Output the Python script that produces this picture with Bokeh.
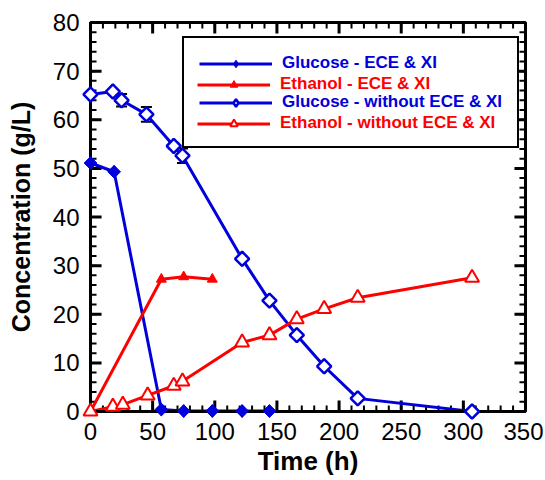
import numpy as np
from bokeh.plotting import figure
from bokeh.models import (Range1d, Legend, LegendItem, Whisker,
                          ColumnDataSource, FixedTicker, TeeHead)
from bokeh.embed import file_html
from bokeh.resources import INLINE

# ---- data ----
glu_ece_t = [0, 19, 57, 75, 98, 122, 144]
glu_ece_c = [51.1, 49.3, 0.4, 0.1, 0.1, 0.1, 0.1]

eth_ece_t = [0, 57, 75, 98]
eth_ece_c = [0.0, 27.2, 27.7, 27.2]

glu_wo_t = [0, 18, 25, 45, 67, 74, 122, 144, 166, 188, 215, 307]
glu_wo_c = [65.2, 65.8, 64.0, 61.1, 54.6, 52.6, 31.4, 22.8, 15.7, 9.3, 2.7, 0.0]
glu_wo_err = [0.3, 0.3, 1.3, 1.5, 0.5, 1.5, 0.4, 0.4, 0.3, 0.3, 0.3, 0.2]

eth_wo_t = [0, 18, 26, 46, 67, 74, 122, 144, 166, 188, 215, 307]
eth_wo_c = [0.0, 1.0, 1.4, 3.3, 5.3, 6.2, 14.2, 15.7, 19.0, 21.1, 23.4, 27.5]

x_ticks = [0, 50, 100, 150, 200, 250, 300, 350]
x_minor = list(range(0, 351, 10))
y_ticks = [0, 10, 20, 30, 40, 50, 60, 70, 80]
y_minor = list(range(0, 81, 2))

labels = ["Glucose - ECE & XI", "Ethanol - ECE & XI",
          "Glucose - without ECE & XI", "Ethanol - without ECE & XI"]

BLUE = "#0000dd"
RED = "#ff0000"
FONT = "Liberation Sans"

x_lo, x_hi = x_ticks[0], x_ticks[-1]
y_lo, y_hi = y_ticks[0], y_ticks[-1]

FRAME_W, FRAME_H = 433, 390   # frame size in px (used for tick lengths)

p = figure(width=543, height=478, output_backend="svg", toolbar_location=None,
           x_range=Range1d(x_lo, x_hi), y_range=Range1d(y_lo, y_hi),
           min_border_left=90, min_border_right=18, min_border_top=22,
           min_border_bottom=66)
p.xgrid.visible = False
p.ygrid.visible = False
p.outline_line_color = "black"
p.outline_line_width = 3
p.background_fill_color = "white"
p.border_fill_color = "white"

for ax, ticks in ((p.xaxis[0], x_ticks), (p.yaxis[0], y_ticks)):
    ax.ticker = FixedTicker(ticks=ticks)
    ax.axis_line_width = 3
    ax.axis_line_color = "black"
    ax.major_tick_in = 0
    ax.major_tick_out = 0
    ax.minor_tick_in = 0
    ax.minor_tick_out = 0
    ax.major_label_text_font = FONT
    ax.major_label_text_font_size = "24px"
    ax.major_label_text_color = "black"
    ax.axis_label_text_font = FONT
    ax.axis_label_text_font_style = "bold"
    ax.axis_label_text_color = "black"

p.xaxis.axis_label = "Time (h)"
p.yaxis.axis_label = "Concentration (g/L)"
p.xaxis.axis_label_text_font_size = "26px"
p.yaxis.axis_label_text_font_size = "25px"
p.xaxis.major_label_standoff = 11
p.yaxis.major_label_standoff = 11
p.xaxis.axis_label_standoff = 3
p.yaxis.axis_label_standoff = 15

# inward tick marks on all four sides, as one NaN-broken polyline per tick class
def tick_path(xt, yt, length_px):
    dx = (x_hi - x_lo) * length_px / FRAME_W
    dy = (y_hi - y_lo) * length_px / FRAME_H
    xs, ys = [], []
    for t in xt:
        xs += [t, t, np.nan, t, t, np.nan]
        ys += [y_lo, y_lo + dy, np.nan, y_hi, y_hi - dy, np.nan]
    for t in yt:
        xs += [x_lo, x_lo + dx, np.nan, x_hi, x_hi - dx, np.nan]
        ys += [t, t, np.nan, t, t, np.nan]
    return xs, ys

mx, my = tick_path(x_minor, y_minor, 6)
p.line(mx, my, line_color="black", line_width=2)
Mx, My = tick_path(x_ticks, y_ticks, 11)
p.line(Mx, My, line_color="black", line_width=3)

# error bars
lo = (np.array(glu_wo_c) - np.array(glu_wo_err)).tolist()
hi = (np.array(glu_wo_c) + np.array(glu_wo_err)).tolist()
err_src = ColumnDataSource(dict(t=glu_wo_t, lo=lo, hi=hi))
p.add_layout(Whisker(base="t", lower="lo", upper="hi", source=err_src,
                     line_color="black", line_width=2,
                     upper_head=TeeHead(size=11, line_color="black", line_width=2),
                     lower_head=TeeHead(size=11, line_color="black", line_width=2)))

# series
l1 = p.line(glu_ece_t, glu_ece_c, line_color=BLUE, line_width=3)
l3 = p.line(glu_wo_t, glu_wo_c, line_color=BLUE, line_width=3)
l2 = p.line(eth_ece_t, eth_ece_c, line_color=RED, line_width=3)
l4 = p.line(eth_wo_t, eth_wo_c, line_color=RED, line_width=3)

# diamond legend proxies (hidden beneath the rotated-square markers)
k1 = p.scatter(glu_ece_t, glu_ece_c, marker="diamond", size=12.5,
               fill_color=BLUE, line_color=BLUE, line_width=1, level="overlay")
k3 = p.scatter(glu_wo_t, glu_wo_c, marker="diamond", size=13.5,
               fill_color="white", line_color=BLUE, line_width=2.5, level="overlay")

p.scatter(glu_ece_t, glu_ece_c, marker="square", angle=np.pi / 4, size=9,
          fill_color=BLUE, line_color=BLUE, line_width=1, level="overlay")
p.scatter(glu_wo_t, glu_wo_c, marker="square", angle=np.pi / 4, size=10,
          fill_color="white", line_color=BLUE, line_width=2.5, level="overlay")
s2 = p.scatter(eth_ece_t, eth_ece_c, marker="triangle", size=10,
               fill_color=RED, line_color=RED, line_width=1, level="overlay")
s4 = p.scatter(eth_wo_t, eth_wo_c, marker="triangle", size=14,
               fill_color="white", line_color=RED, line_width=2, level="overlay")

dummy = p.scatter(x=[], y=[], alpha=0)

def make_legend(items, color, border):
    leg = Legend(items=items, location=(92, 263),
                 label_text_font=FONT, label_text_font_style="bold",
                 label_text_font_size="17px", label_text_color=color,
                 glyph_width=73, glyph_height=19, label_height=19,
                 spacing=0, padding=15, label_standoff=10, label_width=210,
                 margin=0, click_policy="none")
    if border:
        leg.border_line_color = "black"
        leg.border_line_width = 2
        leg.border_line_alpha = 1
        leg.background_fill_color = "white"
        leg.background_fill_alpha = 1
    else:
        leg.border_line_alpha = 0
        leg.background_fill_alpha = 0
    return leg

leg_blue = make_legend([
    LegendItem(label=labels[0], renderers=[l1, k1]),
    LegendItem(label=" ", renderers=[dummy]),
    LegendItem(label=labels[2], renderers=[l3, k3]),
    LegendItem(label=" ", renderers=[dummy]),
], BLUE, True)
leg_red = make_legend([
    LegendItem(label=" ", renderers=[dummy]),
    LegendItem(label=labels[1], renderers=[l2, s2]),
    LegendItem(label=" ", renderers=[dummy]),
    LegendItem(label=labels[3], renderers=[l4, s4]),
], RED, False)
p.add_layout(leg_blue)
p.add_layout(leg_red)

open("out.html", "w").write(file_html(p, INLINE))
